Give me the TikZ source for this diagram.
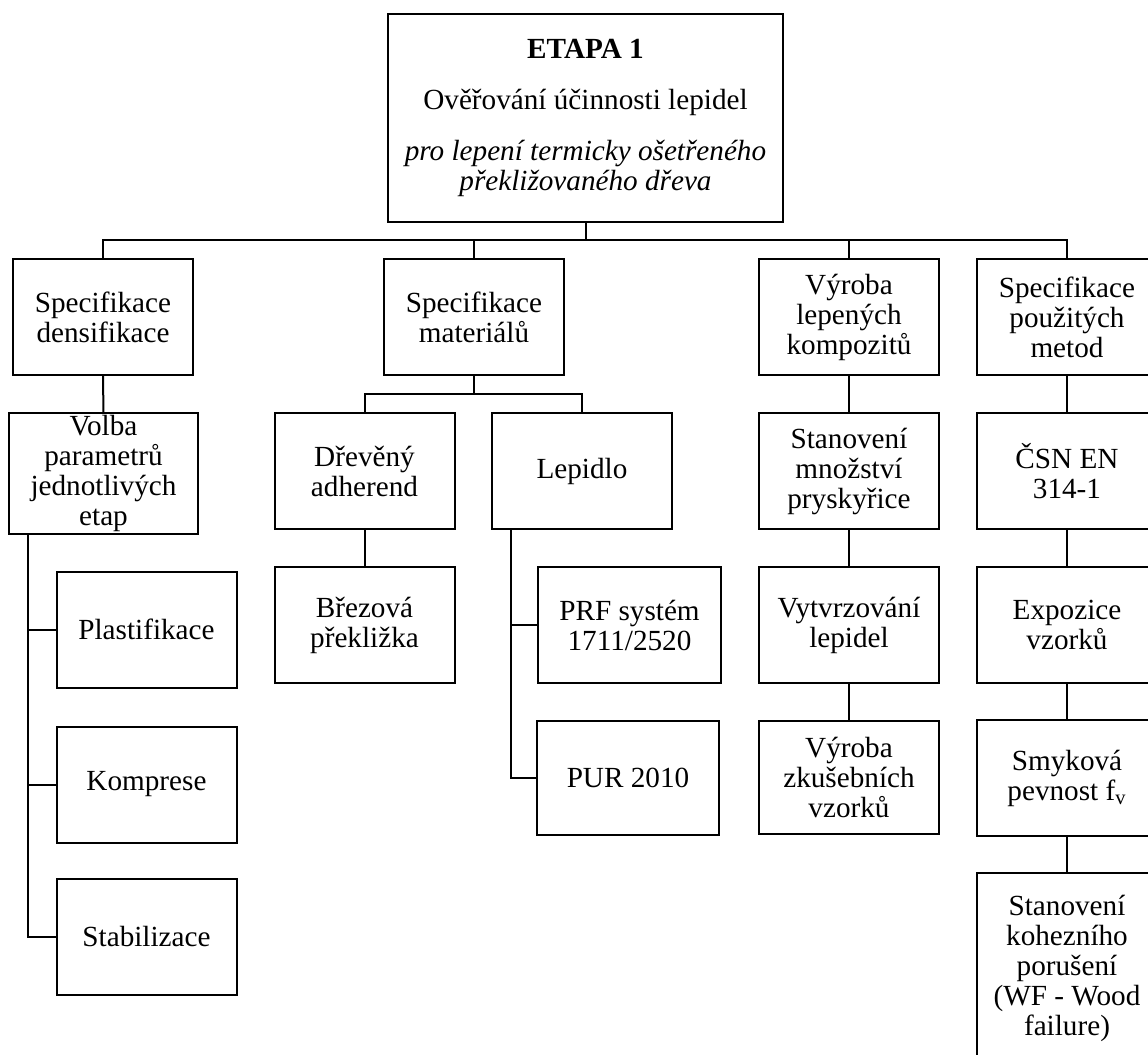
\documentclass[tikz,border=0pt]{standalone}
\usepackage{fontspec}
\setmainfont{Liberation Serif}
\begin{document}
\begin{tikzpicture}[x=0.5pt,y=-0.5pt,line width=1pt,
  box/.style={draw,line width=1pt,inner sep=0pt,align=center,
    minimum width=90pt,minimum height=58pt,
    font=\fontsize{14.6}{15}\selectfont}]
\clip (0,0) rectangle (1148,1055);
\useasboundingbox (0,0) rectangle (1148,1055);
\node[box,minimum width=197.5pt,minimum height=104pt] (top) at (585.5,118)
  {\textbf{ETAPA 1}\\[10.5pt]Ověřování účinnosti lepidel\\[10.5pt]
   \itshape pro lepení termicky ošetřeného\\\itshape překližovaného dřeva};
\node[box] (d1) at (103,317) {Specifikace\\densifikace};
\node[box] (m1) at (474,317) {Specifikace\\materiálů};
\node[box] (v1) at (849,317) {Výroba\\lepených\\kompozitů};
\node[box] (s1) at (1067,317) {Specifikace\\použitých\\metod};
\node[box,minimum width=94.5pt,minimum height=60.5pt] (d2) at (103.5,473.5)
  {Volba\\parametrů\\jednotlivých\\etap};
\node[box] (m2) at (364.5,471) {Dřevěný\\adherend};
\node[box] (m3) at (582,471) {Lepidlo};
\node[box] (v2) at (849,471) {Stanovení\\množství\\pryskyřice};
\node[box] (s2) at (1067,471) {ČSN EN\\314-1};
\node[box] (d3) at (146.5,629.5) {Plastifikace};
\node[box] (m4) at (364.5,625) {Březová\\překližka};
\node[box,minimum width=91.5pt] (m5) at (629.5,625) {PRF systém\\1711/2520};
\node[box] (v3) at (849,625) {Vytvrzování\\lepidel};
\node[box] (s3) at (1067,625) {Expozice\\vzorků};
\node[box] (d4) at (146.5,784.5) {Komprese};
\node[box] (d5) at (146.5,937) {Stabilizace};
\node[box,minimum width=91pt,minimum height=57pt] (m6) at (628,778) {PUR 2010};
\node[box,minimum height=56.5pt] (v4) at (849,777.5) {Výroba\\zkušebních\\vzorků};
\node[box] (s4) at (1067,778) {Smyková\\pevnost f\textsubscript{v}};
\node[box,minimum height=95pt] (s5) at (1067,968)
  {Stanovení\\kohezního\\porušení\\(WF - Wood\\failure)};
\coordinate (j0) at (585.5,240);
\coordinate (j1) at (474,394);
\coordinate (dt) at (28,534);
\coordinate (mt) at (511,529);
\draw (top.south) -- (j0);
\draw (d1.north) -- (d1.north |- j0) -- (s1.north |- j0) -- (s1.north);
\foreach \n in {m1,v1} \draw (\n.north) -- (\n.north |- j0);
\draw (m1.south) -- (j1);
\draw (m2.north) -- (m2.north |- j1) -- (m3.north |- j1) -- (m3.north);
\draw (d1) -- (d2);
\draw (dt) |- (d5.west);
\foreach \n in {d3,d4} \draw (\n.west) -- (\n.west -| dt);
\draw (m2) -- (m4);
\draw (mt) |- (m6.west);
\draw (m5.west) -- (m5.west -| mt);
\draw (v1) -- (v2) -- (v3) -- (v4);
\draw (s1) -- (s2) -- (s3) -- (s4) -- (s5);
\end{tikzpicture}
\end{document}
